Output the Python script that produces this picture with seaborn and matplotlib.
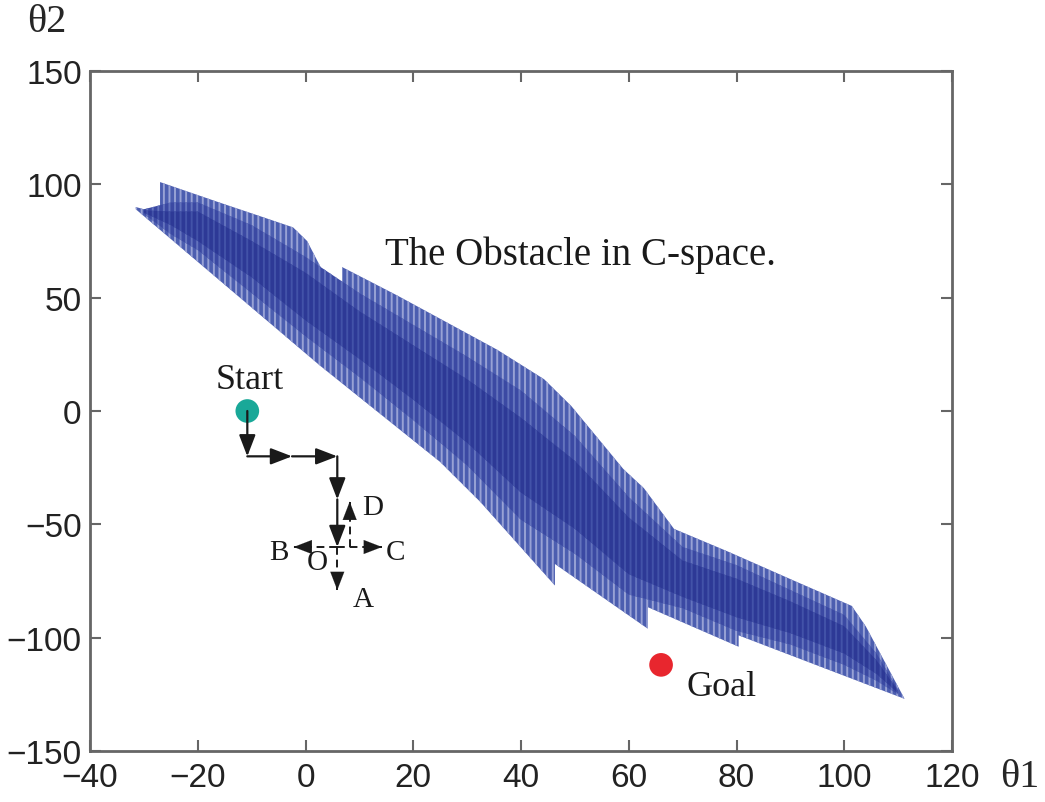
import matplotlib
matplotlib.use("Agg")
import matplotlib.pyplot as plt
import seaborn as sns
import pandas as pd
import numpy as np

# obstacle outline in C-space (theta1, theta2)
upper_t1 = [-31.5, -27, -27, -16, -8.5, -2.3, 0.3, 4, 6.8, 6.8, 17, 26.3, 35.6, 44.3, 49.3,
            59, 62.8, 68.4, 78.4, 90.8, 101.4, 104, 111.2]
upper_t2 = [90, 87, 101, 92, 86, 81, 75, 58, 57, 63.5, 51, 39, 27, 14, 2.3,
            -25.6, -34, -52, -62, -75, -86, -95, -127]
lower_t1 = [-31.5, 2.7, 25, 32.4, 46.3, 46.3, 63.5, 63.5, 80.4, 80.4, 111.2]
lower_t2 = [89, 20, -22.5, -40, -77, -67.5, -96, -86.5, -104, -99, -127]

# darker shading inside the band (estimated)
core_t1 = [-30, -25, -20, -10, 0, 10, 20, 30, 40, 50, 60, 70, 80, 90, 100, 106, 110]
mid_up = [89, 92, 92, 82, 68, 52, 38, 24, 9, -11, -38, -60, -68, -79, -90, -107, -123]
mid_lo = [87, 78, 71, 52, 33, 15, -4, -24, -48, -63, -81, -87, -97, -103, -112, -119, -125]
inner_up = [88.5, 88, 88, 75, 61, 44, 29, 14, -3, -22, -47, -66, -74, -84, -95, -110, -123.5]
inner_lo = [87.5, 82, 75, 59, 40, 23, 5, -14, -36, -52, -72, -82, -91, -98, -107, -116, -124.5]

# start / goal
start = (-10.8, 0)
goal = (66, -112)

# solid path arrows (x0, y0, x1, y1)
path_arrows = [(-10.8, 0, -10.8, -20), (-10.8, -20, -2.5, -20), (-2.5, -20, 5.9, -20),
               (5.9, -20, 5.9, -39), (5.9, -39, 5.9, -60)]
# dashed candidate moves from O
cand_arrows = [(5.9, -60, -2.2, -60), (5.9, -60, 14.2, -60), (5.9, -60, 5.9, -79),
               (8.2, -60, 8.2, -40)]
cand_labels = ["B", "O", "C", "A", "D"]
cand_lx = [-5, 2.2, 16.7, 10.7, 12.4]
cand_ly = [-62.2, -66.6, -62.2, -83, -42.3]

sns.set_style("white")
plt.rcParams["font.family"] = ["Liberation Sans", "DejaVu Sans"]
plt.rcParams["hatch.linewidth"] = 1.4

fig = plt.figure(figsize=(10.45, 8.03), dpi=100)
ax = fig.add_axes([90 / 1045, 51 / 803, 862 / 1045, 680 / 803])

ax.fill(upper_t1 + lower_t1[::-1], upper_t2 + lower_t2[::-1],
        facecolor="#4c5eb0", edgecolor="#98a2d5", hatch="|||", linewidth=0)
ax.fill(core_t1 + core_t1[::-1], mid_up + mid_lo[::-1],
        facecolor="#3b49a3", edgecolor="#6373bd", hatch="|||", linewidth=0)
ax.fill(core_t1 + core_t1[::-1], inner_up + inner_lo[::-1],
        facecolor="#2d3996", edgecolor="#4252a8", hatch="|||", linewidth=0)

pts = pd.DataFrame({"t1": [start[0], goal[0]], "t2": [start[1], goal[1]], "kind": ["Start", "Goal"]})
sns.scatterplot(data=pts, x="t1", y="t2", hue="kind", palette={"Start": "#19a898", "Goal": "#e8262e"},
                s=290, edgecolor="none", legend=False, ax=ax, zorder=3)

head = "-|>,head_length=1.3,head_width=0.5"
for x0, y0, x1, y1 in path_arrows:
    ax.annotate("", xy=(x1, y1), xytext=(x0, y0),
                arrowprops=dict(arrowstyle=head, color="#1a1a1a", lw=1.6,
                                shrinkA=0, shrinkB=0, mutation_scale=10), zorder=4)
for x0, y0, x1, y1 in cand_arrows:
    ax.plot([x0, x1], [y0, y1], ls=(0, (4, 2.5)), color="#1a1a1a", lw=1.4, zorder=4)
    ax.annotate("", xy=(x1, y1), xytext=(x1 - (x1 - x0) * 0.3, y1 - (y1 - y0) * 0.3),
                arrowprops=dict(arrowstyle=head, color="#1a1a1a", lw=0.1,
                                shrinkA=0, shrinkB=0, mutation_scale=10), zorder=4)

serif = ["Liberation Serif", "DejaVu Serif"]
for lab, lx, ly in zip(cand_labels, cand_lx, cand_ly):
    ax.text(lx, ly, lab, family=serif, fontsize=21, ha="center", va="center", color="#1a1a1a")
ax.text(-10.4, 13.7, "Start", family=serif, fontsize=26, ha="center", va="center", color="#1a1a1a")
ax.text(77.2, -121.7, "Goal", family=serif, fontsize=26, ha="center", va="center", color="#1a1a1a")
ax.text(51.1, 69.3, "The Obstacle in C-space.", family=serif, fontsize=28, ha="center", va="center",
        color="#1a1a1a")

ax.set_xlim(-40, 120)
ax.set_ylim(-150, 150)
ax.set_xticks(np.arange(-40, 121, 20))
ax.set_yticks(np.arange(-150, 151, 50))
ax.set_xticklabels([str(v).replace("-", "\u2212") for v in range(-40, 121, 20)])
ax.set_yticklabels([str(v).replace("-", "\u2212") for v in range(-150, 151, 50)])
ax.tick_params(direction="in", length=8, width=1.5, color="#666666", labelsize=24,
               labelcolor="#222222", top=True, right=True, bottom=True, left=True)
ax.tick_params(axis="x", pad=8)
ax.tick_params(axis="y", pad=6)
for sp in ax.spines.values():
    sp.set_color("#666666")
    sp.set_linewidth(2)
ax.set_xlabel("")
ax.set_ylabel("")

fig.text(47 / 1045, 1 - 22 / 803, "\u03b82", family=serif, fontsize=29, ha="center", va="center")
fig.text(1020 / 1045, 1 - 778 / 803, "\u03b81", family=serif, fontsize=29, ha="center", va="center")

fig.savefig("out.png", dpi=100, facecolor="white")
